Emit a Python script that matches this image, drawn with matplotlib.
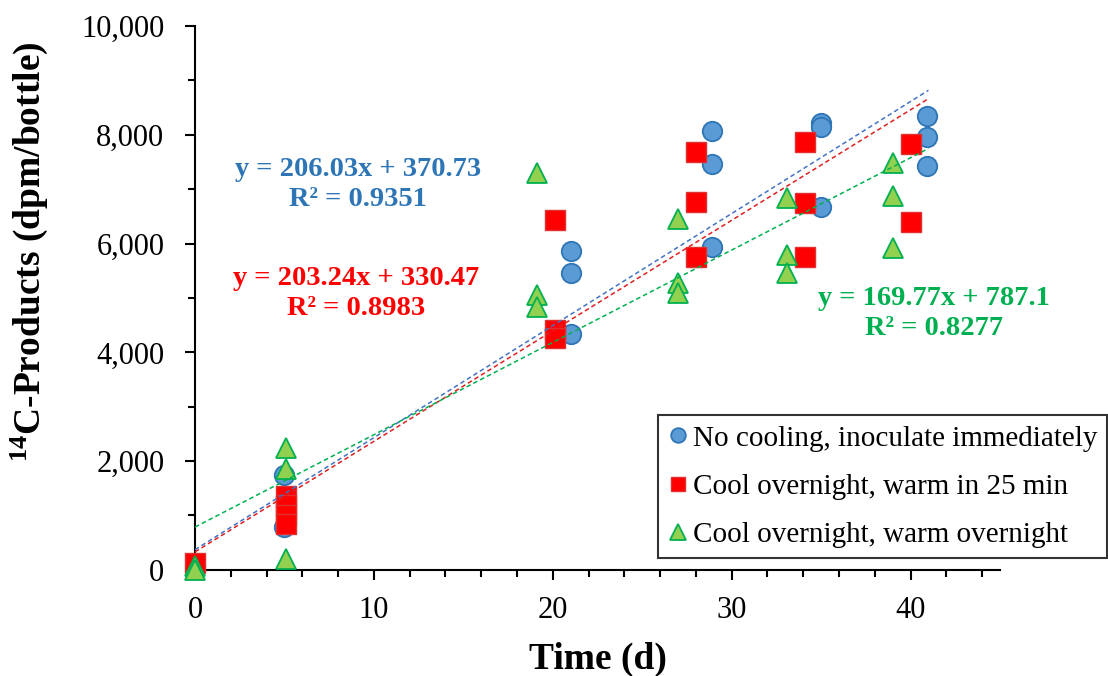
"""14C-products vs time for three cooling treatments, with linear fits."""
import matplotlib
matplotlib.use("Agg")
import matplotlib.pyplot as plt
from matplotlib.ticker import MultipleLocator, FuncFormatter

# ---- data -----------------------------------------------------------------
t_blue = [0, 5, 5, 21, 21, 21, 28.9, 28.9, 28.9, 35, 35, 35, 40.9, 40.9, 40.9]
y_blue = [50, 1750, 780, 5870, 5460, 4340, 8070, 7460, 5940, 8220, 8140, 6670, 8350, 7960, 7430]

t_red = [0, 5.1, 5.1, 5.1, 5.1, 20.1, 20.1, 20.1, 28, 28, 28, 34.1, 34.1, 34.1, 40, 40]
y_red = [120, 1350, 1200, 1000, 850, 6440, 4410, 4270, 7690, 6770, 5750, 7870, 6750, 5750, 7830, 6400]

t_green = [0, 0, 5.1, 5.1, 5.1, 19.1, 19.1, 19.1, 27, 27, 27, 33.1, 33.1, 33.1, 39, 39, 39]
y_green = [80, 0, 2250, 1850, 200, 7290, 5060, 4840, 6450, 5280, 5090, 6840, 5790, 5460, 7480, 6880, 5920]

# Excel trendline coefficients (slope, intercept, R^2)
fit_blue = (206.03, 370.73, 0.9351)
fit_red = (203.24, 330.47, 0.8983)
fit_green = (169.77, 787.1, 0.8277)
fit_x = [0, 41]

labels = ["No cooling, inoculate immediately",
          "Cool overnight, warm in 25 min",
          "Cool overnight, warm overnight"]

SERIF = "Liberation Serif"
plt.rcParams.update({"font.family": SERIF, "mathtext.fontset": "custom",
                     "mathtext.rm": SERIF, "mathtext.bf": SERIF + ":bold",
                     "mathtext.it": SERIF + ":italic"})

fig = plt.figure(figsize=(11.08, 6.76), dpi=100)
ax = fig.add_axes([0.176, 0.157, 0.7265, 0.8045])

ax.plot(t_blue, y_blue, "o", ms=14, mfc="#5B9BD5", mec="#2E75B6", mew=1.3,
        label=labels[0], zorder=4, clip_on=False)
ax.plot(t_red, y_red, "s", ms=14, mfc="#FF0000", mec="#E03030", mew=1.0,
        label=labels[1], zorder=4, clip_on=False)
ax.plot(t_green, y_green, "^", ms=15, mfc="#92D050", mec="#00B050", mew=1.3,
        label=labels[2], zorder=4, clip_on=False)

for (m, b, r2), col in [(fit_blue, "#4472C4"), (fit_red, "#E02020"),
                        (fit_green, "#00B050")]:
    ax.plot(fit_x, [m * x + b for x in fit_x], ls=(0, (3, 2)), lw=1.1,
            color=col, zorder=5)

def eq_text(x, y, fit, col):
    m, b, r2 = fit
    ax.text(x, y, f"y = {m:g}x + {b:g}\nR² = {r2:.4f}", color=col,
            fontsize=20.5, fontweight="bold", ha="center", va="center",
            linespacing=1.25, clip_on=False)

eq_text(9.1, 7080, fit_blue, "#2E75B6")
eq_text(9.0, 5080, fit_red, "#FF0000")
eq_text(41.3, 4710, fit_green, "#00B050")

ax.set_xlim(0, 45)
ax.set_ylim(0, 10000)
ax.xaxis.set_major_locator(MultipleLocator(10))
ax.xaxis.set_minor_locator(MultipleLocator(2))
ax.yaxis.set_major_locator(MultipleLocator(2000))
ax.yaxis.set_minor_locator(MultipleLocator(1000))
ax.yaxis.set_major_formatter(FuncFormatter(lambda v, p: f"{v:,.0f}"))
ax.tick_params(which="major", length=7, width=1.5, labelsize=22)
ax.tick_params(which="minor", length=5, width=1.5)
ax.tick_params(axis="x", pad=12)
ax.tick_params(axis="y", pad=15)
for s in ["top", "right"]:
    ax.spines[s].set_visible(False)
for s in ["left", "bottom"]:
    ax.spines[s].set_linewidth(1.5)

ax.set_xlabel("Time (d)", fontsize=27, fontweight="bold", labelpad=12)
ax.set_ylabel(r"$^{\mathbf{14}}$C-Products (dpm/bottle)", fontsize=27,
              fontweight="bold")
ax.yaxis.set_label_coords(-0.18, 0.585)

leg = ax.legend(loc="lower right", bbox_to_anchor=(0.9995, 0.174),
                bbox_transform=fig.transFigure, fontsize=21, frameon=True,
                fancybox=False, edgecolor="black", handlelength=0.7,
                handletextpad=0.15, borderpad=0.35, labelspacing=0.75,
                markerscale=0.75, borderaxespad=0)
leg.get_frame().set_linewidth(1.5)

fig.savefig("out.png", dpi=100)
